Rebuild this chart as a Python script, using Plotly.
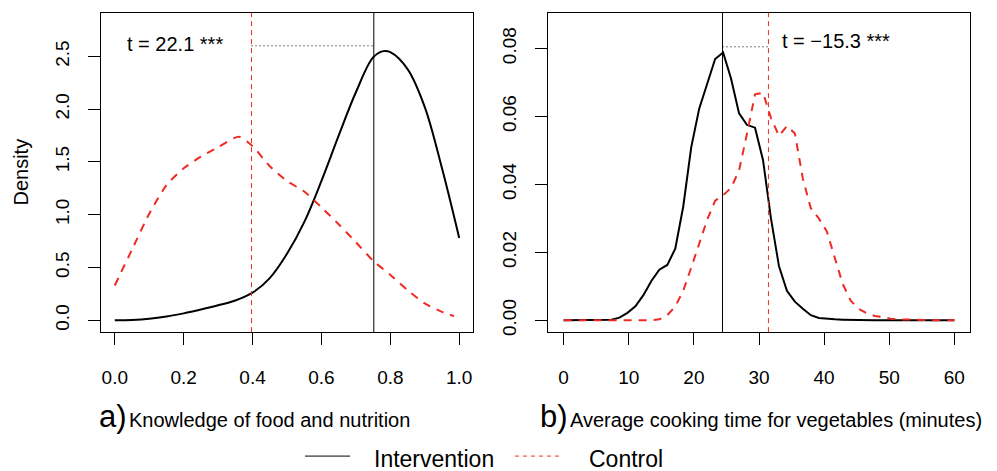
import plotly.graph_objects as go

# ---------------- data ----------------
# a) Knowledge of food and nutrition (density curves)
know_x_int = [0.0, 0.05, 0.1, 0.15, 0.2, 0.25, 0.3, 0.35, 0.4, 0.45, 0.5, 0.55, 0.6, 0.65, 0.7, 0.75, 0.78, 0.8, 0.85, 0.9, 0.95, 1.0]
know_y_int = [0.0, 0.004, 0.015, 0.036, 0.066, 0.102, 0.142, 0.188, 0.262, 0.40, 0.63, 0.93, 1.32, 1.75, 2.16, 2.49, 2.55, 2.54, 2.38, 2.02, 1.44, 0.78]
know_x_ctl = [0.0, 0.05, 0.1, 0.15, 0.2, 0.25, 0.3, 0.36, 0.4, 0.45, 0.5, 0.55, 0.6, 0.65, 0.7, 0.75, 0.8, 0.85, 0.9, 0.95, 0.985]
know_y_ctl = [0.33, 0.67, 1.01, 1.28, 1.44, 1.55, 1.64, 1.74, 1.65, 1.46, 1.32, 1.22, 1.07, 0.91, 0.74, 0.565, 0.43, 0.285, 0.16, 0.08, 0.04]
know_mean_int = 0.752
know_mean_ctl = 0.397
know_t = "t = 22.1 ***"

# b) Average cooking time for vegetables (minutes)
cook_x = [round(60 * i / 49, 4) for i in range(50)]
cook_y_int = [0, 0, 0, 0, 0, 0, 0.0002, 0.0008, 0.0022, 0.0041, 0.0074, 0.0116, 0.0149, 0.0163, 0.0211,
              0.0335, 0.0509, 0.0623, 0.0698, 0.0769, 0.0788, 0.0711, 0.0609, 0.0575, 0.0567, 0.0472,
              0.0300, 0.0160, 0.0087, 0.0055, 0.0034, 0.0015, 0.0007, 0.0004, 0.0003, 0.0002, 0.0001,
              0.0001, 0, 0, 0, 0, 0, 0, 0, 0, 0, 0, 0, 0]
cook_y_ctl = [0, 0, 0, 0, 0, 0, 0, 0, 0, 0, 0, 0, 0.0003, 0.0015, 0.0041, 0.0087, 0.0155, 0.0228,
              0.0296, 0.0352, 0.0368, 0.0390, 0.0441, 0.0550, 0.0665, 0.0670, 0.0596, 0.0543, 0.0572,
              0.0550, 0.0417, 0.0330, 0.0300, 0.0262, 0.0184, 0.0107, 0.0058, 0.0034, 0.0021, 0.0013,
              0.0010, 0.0005, 0.0003, 0.0002, 0.0001, 0, 0, 0, 0, 0]
cook_mean_int = 24.4
cook_mean_ctl = 31.45
cook_t = "t = \u221215.3 ***"

know_xticks = [0.0, 0.2, 0.4, 0.6, 0.8, 1.0]
know_yticks = [0.0, 0.5, 1.0, 1.5, 2.0, 2.5]
cook_xticks = [0, 10, 20, 30, 40, 50, 60]
cook_yticks = [0.00, 0.02, 0.04, 0.06, 0.08]

panel_letters = ["a)", "b)"]
panel_titles = ["Knowledge of food and nutrition", "Average cooking time for vegetables (minutes)"]
series_names = ["Intervention", "Control"]

# ---------------- style ----------------
W, H = 997, 471
RED = "#EE2A22"
FONT = "Liberation Sans, Arial, Helvetica, sans-serif"
NARROW = "Liberation Sans Narrow, Arial Narrow, Liberation Sans, sans-serif"

def px(xp):
    return xp / W

def py(yp):
    return 1 - yp / H

fig = go.Figure()

fig.add_trace(go.Scatter(x=know_x_int, y=know_y_int, mode="lines", xaxis="x", yaxis="y",
                         line=dict(color="black", width=2, shape="spline", smoothing=1.0), showlegend=False))
fig.add_trace(go.Scatter(x=know_x_ctl, y=know_y_ctl, mode="lines", xaxis="x", yaxis="y",
                         line=dict(color=RED, width=2, dash="8px,7px", shape="spline", smoothing=0.6), showlegend=False))
fig.add_trace(go.Scatter(x=cook_x, y=cook_y_int, mode="lines", xaxis="x2", yaxis="y2",
                         line=dict(color="black", width=2), showlegend=False))
fig.add_trace(go.Scatter(x=cook_x, y=cook_y_ctl, mode="lines", xaxis="x2", yaxis="y2",
                         line=dict(color=RED, width=2, dash="8px,7px"), showlegend=False))

shapes = []
# mean lines, panel a
shapes.append(dict(type="line", xref="x", yref="y domain", x0=know_mean_int, x1=know_mean_int, y0=0, y1=1,
                   line=dict(color="black", width=1)))
shapes.append(dict(type="line", xref="x", yref="y domain", x0=know_mean_ctl, x1=know_mean_ctl, y0=0, y1=1,
                   line=dict(color=RED, width=1, dash="5px,4px")))
shapes.append(dict(type="line", xref="x", yref="y", x0=know_mean_ctl, x1=know_mean_int, y0=2.6, y1=2.6,
                   line=dict(color="black", width=1, dash="1px,3px")))
# mean lines, panel b
shapes.append(dict(type="line", xref="x2", yref="y2 domain", x0=cook_mean_int, x1=cook_mean_int, y0=0, y1=1,
                   line=dict(color="black", width=1)))
shapes.append(dict(type="line", xref="x2", yref="y2 domain", x0=cook_mean_ctl, x1=cook_mean_ctl, y0=0, y1=1,
                   line=dict(color=RED, width=1, dash="5px,4px")))
shapes.append(dict(type="line", xref="x2", yref="y2", x0=cook_mean_int, x1=cook_mean_ctl, y0=0.0805, y1=0.0805,
                   line=dict(color="black", width=1, dash="1px,3px")))
# legend keys
shapes.append(dict(type="line", xref="paper", yref="paper", x0=px(305), x1=px(350), y0=py(460), y1=py(460),
                   line=dict(color="black", width=1)))
shapes.append(dict(type="line", xref="paper", yref="paper", x0=px(515), x1=px(560), y0=py(460), y1=py(460),
                   line=dict(color=RED, width=1, dash="4px,4px")))

annotations = [
    dict(text=know_t, x=0.03, y=2.62, xref="x", yref="y", xanchor="left", yanchor="middle",
         showarrow=False, font=dict(size=20, color="black")),
    dict(text=cook_t, x=33.2, y=0.0821, xref="x2", yref="y2", xanchor="left", yanchor="middle",
         showarrow=False, font=dict(size=20, color="black")),
    dict(text="Density", x=px(21), y=py(174), xref="paper", yref="paper", xanchor="center", yanchor="middle",
         textangle=-90, showarrow=False, font=dict(size=20, color="black")),
]
for letter, title, xr in zip(panel_letters, panel_titles, [128, 569]):
    annotations.append(dict(text=letter, x=px(xr), y=py(420), xref="paper", yref="paper", xanchor="right",
                            yanchor="middle", showarrow=False, borderpad=0,
                            font=dict(size=31, color="black", family=NARROW)))
    annotations.append(dict(text=title, x=px(xr), y=py(424), xref="paper", yref="paper", xanchor="left",
                            yanchor="middle", showarrow=False, borderpad=0,
                            font=dict(size=20, color="black")))
for name, xl in zip(series_names, [372, 587]):
    annotations.append(dict(text=name, x=px(xl), y=py(463), xref="paper", yref="paper", xanchor="left",
                            yanchor="middle", showarrow=False, font=dict(size=23, color="black")))

axis_common = dict(showgrid=False, zeroline=False, showline=True, mirror=True, linecolor="black", linewidth=1,
                   ticks="outside", ticklen=12, tickwidth=1, tickcolor="black",
                   tickfont=dict(size=19, color="black"), fixedrange=True)

fig.update_layout(
    width=W, height=H,
    margin=dict(l=0, r=0, t=0, b=0),
    paper_bgcolor="white", plot_bgcolor="white",
    font=dict(family=FONT, color="black"),
    showlegend=False,
    xaxis=dict(domain=[px(101), px(473)], range=[-0.04, 1.04], tickvals=know_xticks,
               ticktext=[f"{v:.1f}" for v in know_xticks], anchor="y", ticklabelstandoff=16, **axis_common),
    yaxis=dict(domain=[py(335), py(13)], range=[-0.112, 2.912], tickvals=know_yticks,
               ticktext=[f"{v:.1f}" for v in know_yticks], anchor="x", tickangle=-90, ticklabelstandoff=11,
               **axis_common),
    xaxis2=dict(domain=[px(548), px(970)], range=[-2.4, 62.4], tickvals=cook_xticks,
                ticktext=[str(v) for v in cook_xticks], anchor="y2", ticklabelstandoff=16, **axis_common),
    yaxis2=dict(domain=[py(335), py(13)], range=[-0.00348, 0.09048], tickvals=cook_yticks,
                ticktext=[f"{v:.2f}" for v in cook_yticks], anchor="x2", tickangle=-90, ticklabelstandoff=11,
                **axis_common),
    shapes=shapes,
    annotations=annotations,
)

fig.write_html("out.html", config={"displayModeBar": False, "staticPlot": True},
               post_script="document.body.style.margin='0px';document.body.style.overflow='hidden';")
